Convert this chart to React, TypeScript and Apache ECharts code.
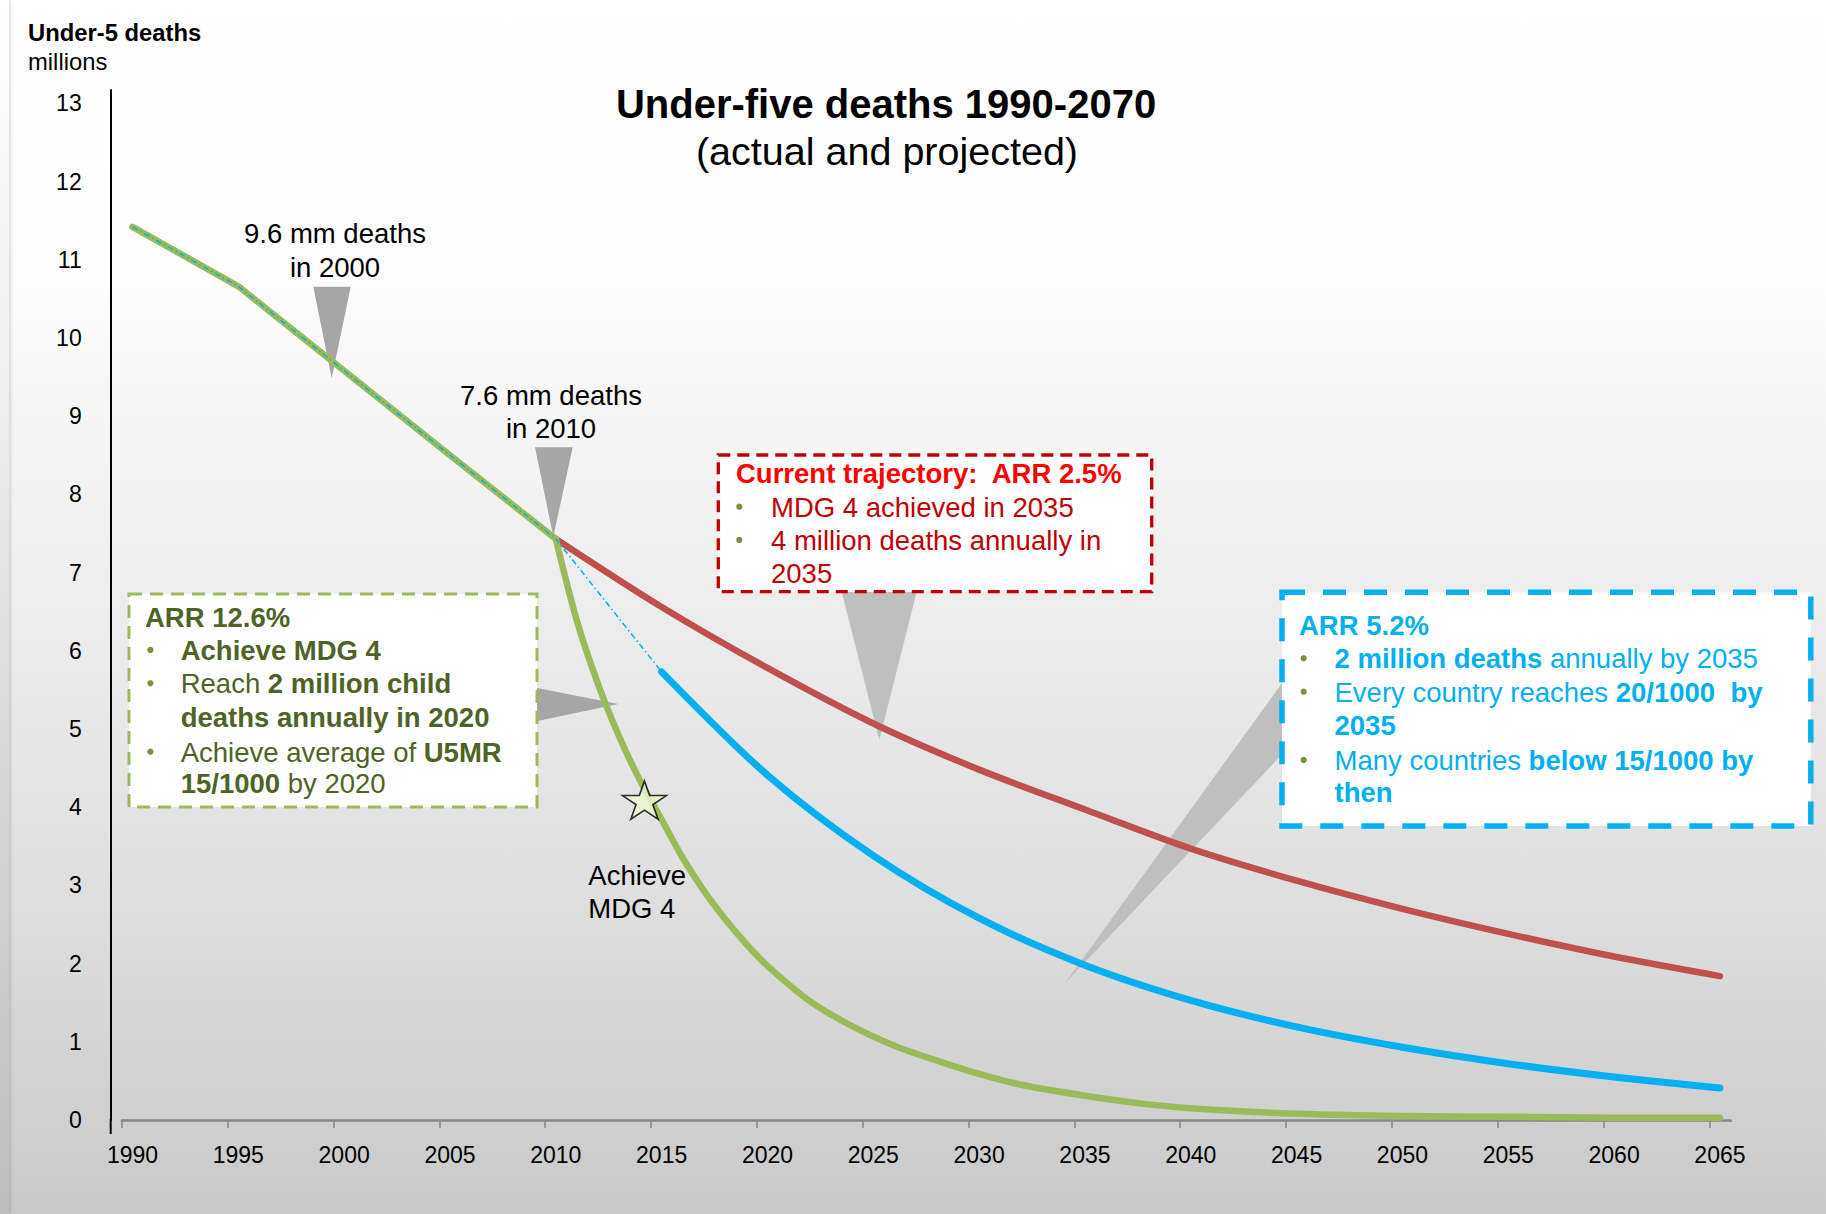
import React, { useEffect, useRef } from 'react';
import * as echarts from 'echarts';

const FONT = "'Liberation Sans', Arial, Helvetica, sans-serif";

// Categories (one per year) and axis settings
const YEARS: string[] = [];
for (let y = 1990; y <= 2065; y++) YEARS.push(String(y));
const Y_MIN = 0;
const Y_MAX = 13.17;
const Y_INTERVAL = 1;

// Actual deaths (millions)
const HIST_YEARS = ['1990', '1995', '2000', '2005', '2010'];
const HIST_VALUES = [11.42, 10.66, 9.58, 8.5, 7.43];

// Current trajectory, ARR 2.5%
const CURRENT_YEARS = ['2010', '2015', '2020', '2025', '2030', '2035', '2040', '2045', '2050', '2055', '2060', '2065'];
const CURRENT_VALUES = [7.43, 6.56, 5.78, 5.07, 4.48, 3.97, 3.47, 3.06, 2.7, 2.38, 2.09, 1.84];

// ARR 5.2% projection
const ARR52_YEARS = ['2015', '2020', '2025', '2030', '2035', '2040', '2045', '2050', '2055', '2060', '2065'];
const ARR52_VALUES = [5.73, 4.41, 3.38, 2.58, 1.98, 1.53, 1.19, 0.93, 0.72, 0.55, 0.41];

// thin dash-dot line (history + bridge to 2015)
const ARR52_BRIDGE_YEARS = ['1990', '1995', '2000', '2005', '2010', '2015'];
const ARR52_BRIDGE_VALUES = [11.42, 10.66, 9.58, 8.5, 7.43, 5.73];

// ARR 12.6% projection
const ARR126_YEARS = ['2010', '2011', '2012', '2013', '2014', '2015', '2016', '2017', '2018', '2019', '2020', '2022', '2024', '2026', '2028', '2030', '2032', '2035', '2038', '2041', '2045', '2050', '2055', '2060', '2065'];
const ARR126_VALUES = [7.43, 6.38, 5.57, 4.9, 4.33, 3.84, 3.35, 2.93, 2.57, 2.25, 1.97, 1.52, 1.2, 0.95, 0.76, 0.59, 0.45, 0.31, 0.2, 0.13, 0.08, 0.05, 0.04, 0.03, 0.03];

// MDG 4 star marker
const STAR_YEAR = '2014';
const STAR_VALUE = 4.09;
const STAR_PATH = 'path://M50,0L61.2,34.5L97.6,34.5L68.2,55.9L79.4,90.5L50,69.1L20.6,90.5L31.8,55.9L2.4,34.5L38.8,34.5Z';

const pair = (xs: string[], vs: number[]) => xs.map((x, i) => [x, vs[i]]);

const AF = 27.5; // annotation font size

type Part = [string, string];
interface Line { x: number; base: number; parts: Part[]; color: string; bullet?: number; align?: string; size?: number }

const GREEN_TXT = '#4f6228';
const RED_HEAD = '#ff0000';
const RED_TXT = '#c00000';
const BLUE_TXT = '#00b0f0';
const BULLET = '#77933c';

const LINES: Line[] = [
  // green box
  { x: 145, base: 626.7, color: GREEN_TXT, parts: [['b', 'ARR 12.6%']] },
  { x: 180.7, base: 660, color: GREEN_TXT, bullet: 150.4, parts: [['b', 'Achieve MDG 4']] },
  { x: 180.7, base: 693.3, color: GREEN_TXT, bullet: 150.4, parts: [['n', 'Reach '], ['b', '2 million child']] },
  { x: 180.7, base: 726.7, color: GREEN_TXT, parts: [['b', 'deaths annually in 2020']] },
  { x: 180.7, base: 761.7, color: GREEN_TXT, bullet: 150.4, parts: [['n', 'Achieve average of '], ['b', 'U5MR']] },
  { x: 180.7, base: 793.3, color: GREEN_TXT, parts: [['b', '15/1000'], ['n', ' by 2020']] },
  // red box
  { x: 736, base: 483.3, color: RED_HEAD, parts: [['b', 'Current trajectory:\u00a0 ARR 2.5%']] },
  { x: 771, base: 516.7, color: RED_TXT, bullet: 739.3, parts: [['n', 'MDG 4 achieved in 2035']] },
  { x: 771, base: 550, color: RED_TXT, bullet: 739.3, parts: [['n', '4 million deaths annually in']] },
  { x: 771, base: 583.3, color: RED_TXT, parts: [['n', '2035']] },
  // blue box
  { x: 1299, base: 635, color: BLUE_TXT, parts: [['b', 'ARR 5.2%']] },
  { x: 1334.5, base: 668.3, color: BLUE_TXT, bullet: 1303.7, parts: [['b', '2 million deaths'], ['n', ' annually by 2035']] },
  { x: 1334.5, base: 701.7, color: BLUE_TXT, bullet: 1303.7, parts: [['n', 'Every country reaches '], ['b', '20/1000\u00a0 by']] },
  { x: 1334.5, base: 735, color: BLUE_TXT, parts: [['b', '2035']] },
  { x: 1334.5, base: 770, color: BLUE_TXT, bullet: 1303.7, parts: [['n', 'Many countries '], ['b', 'below 15/1000 by']] },
  { x: 1334.5, base: 801.7, color: BLUE_TXT, parts: [['b', 'then']] },
  // black annotations
  { x: 335, base: 243.3, color: '#000', align: 'center', parts: [['n', '9.6 mm deaths']] },
  { x: 335, base: 276.7, color: '#000', align: 'center', parts: [['n', 'in 2000']] },
  { x: 551, base: 405, color: '#000', align: 'center', parts: [['n', '7.6 mm deaths']] },
  { x: 551, base: 438.3, color: '#000', align: 'center', parts: [['n', 'in 2010']] },
  { x: 588.3, base: 885, color: '#000', parts: [['n', 'Achieve']] },
  { x: 588.3, base: 918.3, color: '#000', parts: [['n', 'MDG 4']] },
];

function fontStr(weight: string, size: number) {
  return `${weight} ${size}px ${FONT}`;
}

function lineElements(l: Line) {
  const size = l.size || AF;
  const els: any[] = [];
  const text = l.parts.map(([k, t]) => `{${k}|${t}}`).join('');
  els.push({
    type: 'text',
    x: l.x,
    y: l.base - 0.3465 * size,
    z: 20,
    silent: true,
    style: {
      text,
      font: fontStr('normal', size),
      fill: l.color,
      align: l.align || 'left',
      textAlign: l.align || 'left',
      verticalAlign: 'middle',
      textVerticalAlign: 'middle',
      rich: {
        b: { font: fontStr('bold', size), fill: l.color, color: l.color },
        n: { font: fontStr('normal', size), fill: l.color, color: l.color },
      },
    },
  });
  if (l.bullet !== undefined) {
    els.push({
      type: 'circle',
      z: 20,
      silent: true,
      shape: { cx: l.bullet, cy: l.base - 10, r: 3.1 },
      style: { fill: BULLET },
    });
  }
  return els;
}

function buildGraphic() {
  const g: any[] = [];
  // pointers (behind lines)
  const pointers: [number[][], string][] = [
    [[[313.3, 286.7], [350.7, 286.7], [331.7, 378.3]], '#a6a6a6'],
    [[[535, 447.3], [572.7, 447.3], [553.3, 536.7]], '#a6a6a6'],
    [[[527, 686], [527, 723.3], [618.2, 704]], '#a6a6a6'],
    [[[841.7, 591.7], [916.7, 591.7], [879.3, 740]], '#bfbfbf'],
    [[[1283, 681.7], [1283, 753.3], [1065, 983.3]], '#bfbfbf'],
  ];
  pointers.forEach(([pts, c]) => {
    g.push({ type: 'polygon', z: 0, silent: true, shape: { points: pts }, style: { fill: c } });
  });
  // boxes
  g.push({ type: 'rect', z: 15, silent: true, shape: { x: 129, y: 594, width: 408, height: 213 }, style: { fill: '#ffffff', stroke: '#9bbb59', lineWidth: 3, lineDash: [13, 8] } });
  g.push({ type: 'rect', z: 15, silent: true, shape: { x: 718.3, y: 455, width: 433.4, height: 136.7 }, style: { fill: '#ffffff', stroke: '#c00000', lineWidth: 3.3, lineDash: [12, 7] } });
  g.push({ type: 'rect', z: 15, silent: true, shape: { x: 1282, y: 592.3, width: 528.8, height: 233.7 }, style: { fill: '#ffffff', stroke: '#00b0f0', lineWidth: 5.5, lineDash: [23, 18] } });
  // texts
  LINES.forEach((l) => g.push(...lineElements(l)));
  // titles
  g.push({ type: 'text', x: 886, y: 103.5, z: 20, silent: true, style: { text: 'Under-five deaths 1990-2070', font: fontStr('bold', 40), fill: '#000', align: 'center', textAlign: 'center', verticalAlign: 'middle', textVerticalAlign: 'middle' } });
  g.push({ type: 'text', x: 887, y: 151, z: 20, silent: true, style: { text: '(actual and projected)', font: fontStr('normal', 39.5), fill: '#000', align: 'center', textAlign: 'center', verticalAlign: 'middle', textVerticalAlign: 'middle' } });
  g.push({ type: 'text', x: 28, y: 32.5, z: 20, silent: true, style: { text: 'Under-5 deaths', font: fontStr('bold', 23.8), fill: '#000', align: 'left', textAlign: 'left', verticalAlign: 'middle', textVerticalAlign: 'middle' } });
  g.push({ type: 'text', x: 28, y: 61, z: 20, silent: true, style: { text: 'millions', font: fontStr('normal', 23.8), fill: '#000', align: 'left', textAlign: 'left', verticalAlign: 'middle', textVerticalAlign: 'middle' } });
  // y axis line extension below the x axis
  g.push({ type: 'line', z: 5, silent: true, shape: { x1: 110.7, y1: 1119, x2: 110.7, y2: 1134 }, style: { stroke: '#000', lineWidth: 2 } });
  // hide the extra end-of-axis tick that ECharts adds for band axes
  g.push({ type: 'rect', z: 5, silent: true, shape: { x: 1726, y: 1122, width: 10, height: 9 }, style: { fill: '#cfcfcf' } });
  return g;
}

export default function App() {
  const ref = useRef<HTMLDivElement>(null);
  useEffect(() => {
    if (!ref.current) return;
    const chart = echarts.init(ref.current, undefined, { renderer: 'svg' });
    const lineBase = { type: 'line', showSymbol: false, symbol: 'none', silent: true, emphasis: { disabled: true } };
    chart.setOption({
      animation: false,
      backgroundColor: 'transparent',
      grid: { left: 121.9, right: 95.5, top: 90, bottom: 94, containLabel: false },
      xAxis: {
        type: 'category',
        data: YEARS,
        boundaryGap: true,
        axisLine: { show: true, onZero: true, lineStyle: { color: '#878787', width: 2.5 } },
        axisTick: { show: true, interval: 4, length: 8, lineStyle: { color: '#878787', width: 1.5 } },
        axisLabel: { interval: 4, fontSize: 23, color: '#000', margin: 23, fontFamily: FONT },
        splitLine: { show: false },
      },
      yAxis: {
        type: 'value',
        min: Y_MIN,
        max: Y_MAX,
        interval: Y_INTERVAL,
        offset: 11.2,
        axisLine: { show: true, lineStyle: { color: '#000', width: 2 } },
        axisTick: { show: false },
        splitLine: { show: false },
        axisLabel: {
          fontSize: 23,
          color: '#000',
          margin: 29,
          fontFamily: FONT,
          formatter: (v: number) => (Math.abs(v - Math.round(v)) < 1e-6 ? String(Math.round(v)) : ''),
        },
      },
      series: [
        { ...lineBase, name: 'Current trajectory ARR 2.5%', data: pair(CURRENT_YEARS, CURRENT_VALUES), smooth: 0.3, z: 2, lineStyle: { color: '#c0504d', width: 6.5, cap: 'round', join: 'round' } },
        { ...lineBase, name: 'Actual', data: pair(HIST_YEARS, HIST_VALUES), smooth: false, z: 3, lineStyle: { color: '#9bbb59', width: 6.5, cap: 'round', join: 'round' } },
        { ...lineBase, name: 'ARR 12.6%', data: pair(ARR126_YEARS, ARR126_VALUES), smooth: 0.3, z: 3, lineStyle: { color: '#9bbb59', width: 6.5, cap: 'round', join: 'round' } },
        { ...lineBase, name: 'ARR 5.2%', data: pair(ARR52_YEARS, ARR52_VALUES), smooth: 0.3, z: 3, lineStyle: { color: '#00b0f0', width: 7, cap: 'round', join: 'round' } },
        { ...lineBase, name: 'ARR 5.2% bridge', data: pair(ARR52_BRIDGE_YEARS, ARR52_BRIDGE_VALUES), smooth: false, z: 4, lineStyle: { color: '#00b0f0', width: 1.5, type: [6, 3, 1.5, 3] } },
        {
          type: 'scatter',
          name: 'Achieve MDG 4',
          data: [[STAR_YEAR, STAR_VALUE]],
          symbol: STAR_PATH,
          symbolSize: [44, 38],
          symbolOffset: [4, 0],
          silent: true,
          z: 6,
          itemStyle: { color: '#ebf7d0', borderColor: '#000', borderWidth: 1.6 },
        },
      ],
      graphic: { elements: buildGraphic() },
    });
    return () => chart.dispose();
  }, []);

  return (
    <div
      style={{
        position: 'fixed',
        left: 0,
        top: 0,
        width: 1826,
        height: 1214,
        overflow: 'hidden',
        background: 'linear-gradient(to bottom, #ffffff 0%, #fdfdfd 22%, #eeeeee 48%, #dedede 75%, #c9c9c9 100%)',
      }}
    >
      <div
        style={{
          position: 'absolute',
          left: 0,
          top: 0,
          width: 9,
          height: 1214,
          background: 'linear-gradient(to bottom, #ffffff 0%, #f0f0f0 30%, #bdbdbd 100%)',
          boxShadow: '2px 0 3px rgba(0,0,0,0.12)',
        }}
      />
      <div ref={ref} style={{ position: 'absolute', left: 0, top: 0, width: 1826, height: 1214 }} />
    </div>
  );
}
